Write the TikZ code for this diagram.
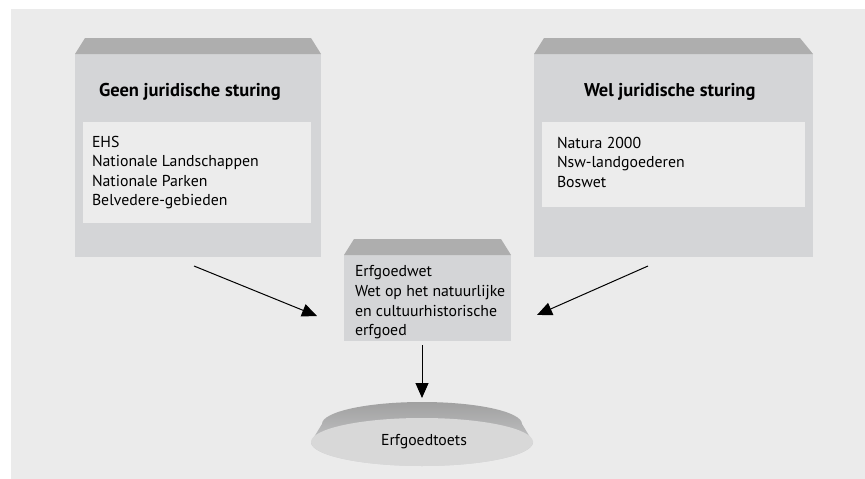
\documentclass[tikz,border=0pt]{standalone}
\usepackage{fontspec}
\setmainfont{PT Sans}
\usetikzlibrary{arrows.meta}
\definecolor{bgc}{HTML}{EBEBEB}
\definecolor{bodyc}{HTML}{D4D5D7}
\definecolor{bandc}{HTML}{AEAEAE}
\definecolor{innerc}{HTML}{ECECEC}
\definecolor{discc}{HTML}{D8D8D8}
\tikzset{
  boxbody/.style={fill=bodyc, draw=none, inner sep=0pt, outer sep=0pt, anchor=north west},
  innerbox/.style={fill=innerc, draw=none, inner sep=0pt, outer sep=0pt, anchor=north west},
  topband/.style={fill=bandc},
  txt/.style={inner sep=0pt, outer sep=0pt, anchor=base west, font=\fontsize{15.8}{18}\selectfont, text=black},
  ttl/.style={txt, font=\fontsize{18.5}{21}\selectfont\bfseries},
  arr/.style={-{Triangle[length=15pt,width=13pt]}, line width=1pt, black}
}
\begin{document}
\begin{tikzpicture}[x=1pt, y=-1pt]
\useasboundingbox (0,0) rectangle (865,479);
\fill[bgc] (11,9) rectangle (865,479);
% left box
\node[boxbody, minimum width=246pt, minimum height=203pt] (L) at (75,54) {};
\fill[topband] (L.north west) -- ([shift={(10,-16)}]L.north west) -- ([shift={(-10,-16)}]L.north east) -- (L.north east) -- cycle;
\node[innerbox, minimum width=228pt, minimum height=101pt] (Li) at (83,122) {};
\node[ttl] (Lt) at (99,96) {Geen juridische sturing};
\node[txt] (l1) at (92,147) {EHS};
\node[txt] (l2) at (92,166.5) {Nationale Landschappen};
\node[txt] (l3) at (92,186) {Nationale Parken};
\node[txt] (l4) at (92,205.5) {Belvedere-gebieden};
% right box
\node[boxbody, minimum width=279pt, minimum height=203pt] (R) at (534,54) {};
\fill[topband] (R.north west) -- ([shift={(10,-16)}]R.north west) -- ([shift={(-13,-16)}]R.north east) -- (R.north east) -- cycle;
\node[innerbox, minimum width=263pt, minimum height=85pt] (Ri) at (542,122) {};
\node[ttl] (Rt) at (584,96) {Wel juridische sturing};
\node[txt] (r1) at (557,148) {Natura 2000};
\node[txt] (r2) at (557,167.5) {Nsw-landgoederen};
\node[txt] (r3) at (557,187) {Boswet};
% middle box
\node[boxbody, minimum width=167pt, minimum height=86pt] (M) at (344,255) {};
\fill[topband] (M.north west) -- ([shift={(10,-16)}]M.north west) -- ([shift={(-10,-16)}]M.north east) -- (M.north east) -- cycle;
\node[txt] (m1) at (355,276) {Erfgoedwet};
\node[txt] (m2) at (355,296) {Wet op het natuurlijke};
\node[txt] (m3) at (355,316) {en cultuurhistorische};
\node[txt] (m4) at (355,335.5) {erfgoed};
% disc
\shade[top color=bandc!92!black, bottom color=bodyc] (322,424) arc[start angle=180, end angle=360, x radius=100, y radius=22] -- (533,442) arc[start angle=0, end angle=180, x radius=111, y radius=24] -- cycle;
\fill[discc] (422,442) ellipse[x radius=111, y radius=24];
\node[txt, anchor=base] (T) at (424,445) {Erfgoedtoets};
% arrows
\coordinate (a1s) at (194,266);
\coordinate (a1e) at (317,316);
\coordinate (a2s) at (648,266);
\coordinate (a2e) at (537,315);
\coordinate (a3s) at (422,345);
\coordinate (a3e) at (422,398);
\draw[arr] (a1s) -- (a1e);
\draw[arr] (a2s) -- (a2e);
\draw[arr] (a3s) -- (a3e);
\end{tikzpicture}
\end{document}
